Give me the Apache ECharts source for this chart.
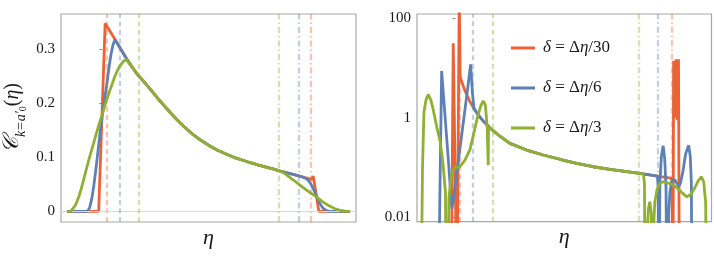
<!DOCTYPE html>
<html><head><meta charset="utf-8">
<script src="https://cdn.jsdelivr.net/npm/echarts@6/dist/echarts.min.js"></script>
<style>html,body{margin:0;padding:0;background:#fff}#c{width:714px;height:266px}</style>
</head><body><div id="c"></div>
<script>
// ---- names, colours ----
const seriesNames = ['δ = Δη/30', 'δ = Δη/6', 'δ = Δη/3'];
const deltaFractions = [1/30, 1/6, 1/3];           // δ / Δη
const lineColors = ['#EB6235', '#5E81B5', '#8FB032'];
const fadedColors = ['rgba(235,98,53,0.38)', 'rgba(94,129,181,0.38)', 'rgba(143,176,50,0.38)'];

// ---- tick labels ----
const linTicks = [0, 0.1, 0.2, 0.3];
const logTicks = [0.01, 1, 100];

// ---- left panel: C(eta), eta in units of Δη from η1 ----
const linRedHead = [[-0.166,0],[-0.017,0],[0.0134,0.348],[0.040,0.331],[0.060,0.318],[0.087,0.300]];
const linBlueHead = [[-0.166,0],[-0.069,0],[-0.060,0.006],[-0.050,0.022],[-0.040,0.047],[-0.030,0.078],[-0.020,0.112],[-0.010,0.147],[0.000,0.178],[0.010,0.205],[0.020,0.232],[0.030,0.262],[0.040,0.289],[0.050,0.308],[0.060,0.318],[0.087,0.300]];
const linGreenHead = [[-0.166,0],[-0.150,0],[-0.140,0.004],[-0.125,0.012],[-0.110,0.027],[-0.100,0.040],[-0.090,0.055],[-0.077,0.075],[-0.060,0.100],[-0.040,0.127],[-0.020,0.155],[0.000,0.180],[0.020,0.206],[0.040,0.229],[0.060,0.251],[0.080,0.268],[0.100,0.278],[0.1135,0.281]];
const linCommon = [[0.118,0.280],[0.140,0.267],[0.168,0.252],[0.200,0.238],[0.228,0.225],[0.265,0.207],[0.305,0.189],[0.345,0.172],[0.383,0.157],[0.420,0.144],[0.461,0.132],[0.500,0.122],[0.539,0.1135],[0.578,0.1065],[0.617,0.100],[0.656,0.095],[0.695,0.090],[0.734,0.0855],[0.773,0.0815],[0.805,0.078],[0.835,0.0745]];
const linRedTail = [[0.900,0.068],[0.960,0.0615],[0.983,0.059],[0.990,0.065],[1.016,0],[1.163,0]];
const linBlueTail = [[0.900,0.068],[0.940,0.0635],[0.960,0.060],[0.975,0.053],[0.990,0.042],[1.000,0.033],[1.010,0.024],[1.023,0.013],[1.035,0.006],[1.048,0.002],[1.065,0],[1.163,0]];
const linGreenTail = [[0.850,0.0715],[0.866,0.067],[0.900,0.057],[0.935,0.046],[0.970,0.036],[1.000,0.028],[1.030,0.019],[1.060,0.011],[1.090,0.005],[1.120,0.0015],[1.145,0],[1.163,0]];

// ---- right panel (log scale) ----
const logCommon = [[0.103,1.14],[0.129,0.83],[0.156,0.63],[0.2015,0.427],[0.247,0.307],[0.323,0.225],[0.398,0.179],[0.474,0.147],[0.550,0.122],[0.625,0.104],[0.701,0.0923],[0.777,0.0826],[0.837,0.0766]];
const logRedHead = [[-0.022,1e-5],[-0.0104,31.5],[0.0005,0.016],[0.005,1e-5],[0.0168,300],[0.0209,6.8],[0.0277,5.4],[0.0427,3.5],[0.0654,2.1],[0.0835,1.55]];
const logBlueHead = [[-0.082,1e-5],[-0.0631,8.7],[-0.0527,2.14],[-0.0413,0.457],[-0.030,0.1],[-0.021,0.025],[-0.0163,0.015],[-0.012,0.02],[-0.0073,0.028],[0.0018,0.056],[0.020,0.24],[0.038,1.0],[0.054,3.55],[0.0685,11.9],[0.0767,3.16],[0.0835,1.58],[0.0926,1.34]];
const logGreenHead = [[-0.1593,1e-5],[-0.150,0.1],[-0.1434,1.3],[-0.134,2.3],[-0.124,2.95],[-0.1117,2.24],[-0.101,1.44],[-0.0844,0.63],[-0.0708,0.355],[-0.0572,0.126],[-0.0458,0.0316],[-0.040,1e-5],[-0.030,0.025],[-0.0177,0.0766],[-0.0027,0.1],[0.020,0.105],[0.0427,0.141],[0.0654,0.23],[0.0835,0.50],[0.1017,1.12],[0.1153,1.78],[0.1257,2.19],[0.1357,1.78],[0.1439,0.63],[0.1484,0.112],[0.1498,0.66]];
const logRedTail = [[0.917,0.0676],[0.984,0.0608],[0.9865,1e-5],[0.9905,14],[0.9968,1.0],[1.0027,15],[1.0072,0.9],[1.0127,15],[1.0177,1e-5]];
const logBlueTail = [[0.917,0.0676],[0.9205,0.04],[0.9235,1e-5],[0.928,0.05],[0.935,0.17],[0.9428,0.275],[0.950,0.15],[0.956,0.04],[0.9615,1e-5],[0.968,0.012],[0.9737,0.032],[0.983,0.058],[0.9964,0.056],[1.006,0.048],[1.0136,0.041],[1.022,0.05],[1.032,0.08],[1.045,0.19],[1.059,0.28],[1.066,0.17],[1.071,0.05],[1.0754,1e-5]];
const logGreenTail = [[0.853,0.0735],[0.858,0.05],[0.862,1e-5],[0.870,0.005],[0.876,0.015],[0.8824,0.0206],[0.889,0.012],[0.8947,1e-5],[0.899,0.006],[0.905,0.02],[0.915,0.036],[0.928,0.048],[0.943,0.052],[0.965,0.049],[0.988,0.0447],[1.01,0.038],[1.03,0.031],[1.049,0.026],[1.065,0.028],[1.085,0.038],[1.102,0.054],[1.117,0.0655],[1.127,0.052],[1.136,0.02],[1.1425,1e-5]];

function join(head, common, tail) {
  const last = head[head.length - 1][0];
  return head.concat(common.filter(p => p[0] > last), tail);
}
const linData = [join(linRedHead, linCommon, linRedTail), join(linBlueHead, linCommon, linBlueTail), join(linGreenHead, linCommon, linGreenTail)];
const logData = [join(logRedHead, logCommon, logRedTail), join(logBlueHead, logCommon, logBlueTail), join(logGreenHead, logCommon, logGreenTail)];

const SERIF = 'Liberation Serif';
const chart = echarts.init(document.getElementById('c'), null, {renderer: 'canvas'});

function boundaryLines(i, extra) {
  const d = deltaFractions[i] / 2;
  return {
    silent: true, symbol: ['none', 'none'], label: {show: false}, animation: false,
    data: [
      {xAxis: d, lineStyle: {color: fadedColors[i], width: 2.3, type: [5, 3.5]}},
      {xAxis: 1 - d, lineStyle: {color: fadedColors[i], width: 2.3, type: [6, 3, 1.5, 3]}}
    ].concat(extra || [])
  };
}

const series = [];
for (let i = 0; i < 3; i++) {
  series.push({
    name: seriesNames[i], type: 'line', xAxisIndex: 0, yAxisIndex: 0,
    data: linData[i], showSymbol: false, symbol: 'none', z: 3 + i,
    lineStyle: {color: lineColors[i], width: 2.8}, itemStyle: {color: lineColors[i]},
    markLine: boundaryLines(i, i === 0 ? [{yAxis: 0, lineStyle: {color: '#dadada', width: 1, type: 'solid'}}] : [])
  });
}
for (let i = 0; i < 3; i++) {
  series.push({
    name: seriesNames[i], type: 'line', xAxisIndex: 1, yAxisIndex: 1,
    data: logData[i], showSymbol: false, symbol: 'none', z: 3 + i,
    lineStyle: {color: lineColors[i], width: 2.8}, itemStyle: {color: lineColors[i]},
    markLine: boundaryLines(i)
  });
}

const labelStyle = {fontFamily: SERIF, fontSize: 15, color: '#1a1a1a', margin: 6};
const etaName = {name: 'η', nameLocation: 'middle', nameGap: 5, nameTextStyle: {fontFamily: SERIF, fontStyle: 'italic', fontSize: 22, color: '#1a1a1a', verticalAlign: 'top'}};
const option = {
  animation: false,
  backgroundColor: '#fff',
  grid: [
    {left: 60, top: 14, width: 296, height: 208, show: true, borderColor: '#a8a8a8', borderWidth: 1.2},
    {left: 417, top: 14, width: 294.5, height: 207.7, show: true, borderColor: '#a8a8a8', borderWidth: 1.2}
  ],
  xAxis: [
    Object.assign({type: 'value', gridIndex: 0, min: -0.1938, max: 1.1906, axisLine: {show: false}, axisTick: {show: false}, axisLabel: {show: false}, splitLine: {show: false}}, etaName),
    Object.assign({type: 'value', gridIndex: 1, min: -0.175, max: 1.1625, axisLine: {show: false}, axisTick: {show: false}, axisLabel: {show: false}, splitLine: {show: false}}, etaName)
  ],
  yAxis: [
    {type: 'value', gridIndex: 0, min: -0.0198, max: 0.3654,
     axisLine: {show: false}, splitLine: {show: false},
     axisTick: {show: true, length: 3, customValues: linTicks, lineStyle: {color: '#888'}},
     axisLabel: Object.assign({customValues: linTicks, formatter: v => String(v)}, labelStyle),
     name: '{c|𝒞}{s|k=a′}{ss|0}{n|(}{i|η}{n|)}', nameLocation: 'middle', nameRotate: 90, nameGap: 33,
     nameTextStyle: {color: '#1a1a1a', rich: {
       c: {fontFamily: SERIF, fontStyle: 'italic', fontSize: 22, color: '#1a1a1a', verticalAlign: 'bottom', padding: [0, 0, 5, 0]},
       s: {fontFamily: SERIF, fontStyle: 'italic', fontSize: 14, color: '#1a1a1a', verticalAlign: 'bottom'},
       ss: {fontFamily: SERIF, fontSize: 10, color: '#1a1a1a', verticalAlign: 'bottom'},
       n: {fontFamily: SERIF, fontSize: 20, color: '#1a1a1a', verticalAlign: 'bottom', padding: [0, 0, 5, 0]},
       i: {fontFamily: SERIF, fontStyle: 'italic', fontSize: 20, color: '#1a1a1a', verticalAlign: 'bottom', padding: [0, 0, 5, 0]}
     }}},
    {type: 'log', logBase: 10, gridIndex: 1, min: 0.00818, max: 122,
     axisLine: {show: false}, splitLine: {show: false}, minorTick: {show: false},
     axisTick: {show: true, length: 3, customValues: logTicks, lineStyle: {color: '#888'}},
     axisLabel: Object.assign({customValues: logTicks, formatter: v => String(v)}, labelStyle)}
  ],
  legend: {
    show: true, orient: 'vertical', left: 506, top: 33, itemWidth: 24, itemHeight: 3, itemGap: 20, icon: 'rect',
    selectedMode: false,
    data: seriesNames,
    formatter: name => '{i|δ}{n| = Δ}{i|η}{n|/' + name.split('/')[1] + '}',
    textStyle: {fontFamily: SERIF, fontSize: 17, color: '#1a1a1a', lineHeight: 20, padding: [0, 0, 0, 3],
      rich: {i: {fontFamily: SERIF, fontStyle: 'italic', fontSize: 17, color: '#1a1a1a'}, n: {fontFamily: SERIF, fontSize: 17, color: '#1a1a1a'}}}
  },
  series: series
};
chart.setOption(option);
</script></body></html>
